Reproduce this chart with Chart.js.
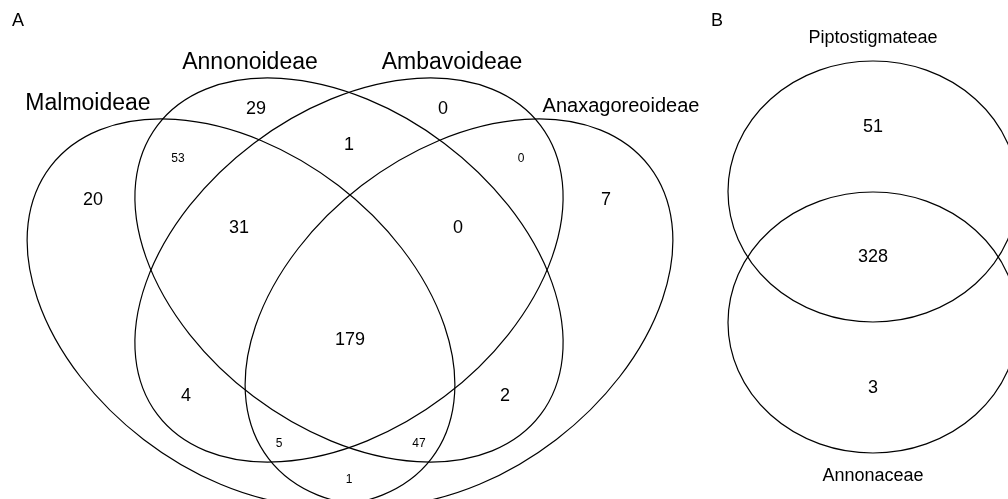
<!DOCTYPE html>
<html lang="en">
<head>
<meta charset="UTF-8">
<title>Venn</title>
<script src="https://cdn.jsdelivr.net/npm/chart.js"></script>
<style>
  body { margin: 0; background: #fff; }
  #wrap { width: 1008px; height: 499px; }
</style>
</head>
<body>
<div id="wrap"><canvas id="venn" width="1008" height="499"></canvas></div>
<script>
// --- data ---
const setNamesA = ['Malmoideae', 'Annonoideae', 'Ambavoideae', 'Anaxagoreoideae'];
const regionsA = ['Mal', 'Ann', 'Amb', 'Ana', 'Mal&Ann', 'Ann&Amb', 'Amb&Ana', 'Mal&Ann&Amb',
  'Ann&Amb&Ana', 'all', 'Mal&Amb', 'Ann&Ana', 'Mal&Amb&Ana', 'Mal&Ann&Ana', 'Mal&Ana'];
const countsA = [20, 29, 0, 7, 53, 1, 0, 31, 0, 179, 4, 2, 5, 47, 1];

const setNamesB = ['Piptostigmateae', 'Annonaceae'];
const regionsB = ['Pip', 'Pip&Annonaceae', 'Annonaceae'];
const countsB = [51, 328, 3];

// --- layout (pixel units of the 1008x499 frame) ---
const posA = [[93, 200], [256, 109], [443, 109], [606, 200], [178, 159], [349, 145], [521, 159],
  [239, 228], [458, 228], [350, 340], [186, 396], [505, 396], [279, 444], [419, 444], [349, 480]];
const sizeA = [18, 18, 18, 18, 12, 18, 12, 18, 18, 18, 18, 18, 12, 12, 12];
const posB = [[873, 127], [873, 257], [873, 388]];

const namePosA = [[88, 104, 23], [250, 63, 23], [452, 63, 23], [621, 106, 20]];
const namePosB = [[873, 38, 18], [873, 476, 18]];

// ellipses: cx, cy, semi-axis a, semi-axis b, rotation (deg)
const ellipsesA = [[241, 312.5, 240, 160, 37.5], [349, 270, 240, 158.5, 37],
  [349, 270, 240, 158.5, -37], [459, 312.5, 240, 160, -37.5]];
const ellipsesB = [[873, 191.5, 145, 130.5, 0], [873, 322.5, 145, 130.5, 0]];

const FONT = '"Liberation Sans", Arial, Helvetica, sans-serif';

const vennPlugin = {
  id: 'venn',
  afterDatasetsDraw(chart) {
    const ctx = chart.ctx;
    const xs = chart.scales.x, ys = chart.scales.y;
    const sx = Math.abs(xs.getPixelForValue(1) - xs.getPixelForValue(0));
    const sy = Math.abs(ys.getPixelForValue(1) - ys.getPixelForValue(0));
    ctx.save();
    ctx.strokeStyle = '#000';
    ctx.lineWidth = 1.2;
    ellipsesA.concat(ellipsesB).forEach(e => {
      ctx.beginPath();
      ctx.ellipse(xs.getPixelForValue(e[0]), ys.getPixelForValue(e[1]),
        e[2] * sx, e[3] * sy, e[4] * Math.PI / 180, 0, Math.PI * 2);
      ctx.stroke();
    });

    ctx.fillStyle = '#000';
    ctx.textAlign = 'center';
    ctx.textBaseline = 'middle';
    // region counts
    chart.data.datasets.forEach((ds, di) => {
      const meta = chart.getDatasetMeta(di);
      meta.data.forEach((pt, i) => {
        ctx.font = ds.sizes[i] + 'px ' + FONT;
        ctx.fillText(String(ds.data[i].v), pt.x, pt.y);
      });
    });
    // set names
    const names = setNamesA.map((n, i) => [n].concat(namePosA[i]))
      .concat(setNamesB.map((n, i) => [n].concat(namePosB[i])));
    names.forEach(n => {
      ctx.font = n[3] + 'px ' + FONT;
      ctx.fillText(n[0], xs.getPixelForValue(n[1]), ys.getPixelForValue(n[2]));
    });
    // panel letters
    ctx.font = '18px ' + FONT;
    ctx.fillText('A', xs.getPixelForValue(18), ys.getPixelForValue(21));
    ctx.fillText('B', xs.getPixelForValue(717), ys.getPixelForValue(21));
    ctx.restore();
  }
};

new Chart(document.getElementById('venn'), {
  type: 'scatter',
  data: {
    datasets: [
      {
        label: 'A',
        data: countsA.map((v, i) => ({ x: posA[i][0], y: posA[i][1], v: v, r: regionsA[i] })),
        sizes: sizeA,
        pointRadius: 0
      },
      {
        label: 'B',
        data: countsB.map((v, i) => ({ x: posB[i][0], y: posB[i][1], v: v, r: regionsB[i] })),
        sizes: countsB.map(() => 18),
        pointRadius: 0
      }
    ]
  },
  options: {
    responsive: false,
    animation: false,
    events: [],
    layout: { padding: 0 },
    plugins: { legend: { display: false }, tooltip: { enabled: false } },
    scales: {
      x: { type: 'linear', min: 0, max: 1008, display: false },
      y: { type: 'linear', min: 0, max: 499, reverse: true, display: false }
    }
  },
  plugins: [vennPlugin]
});
</script>
</body>
</html>
